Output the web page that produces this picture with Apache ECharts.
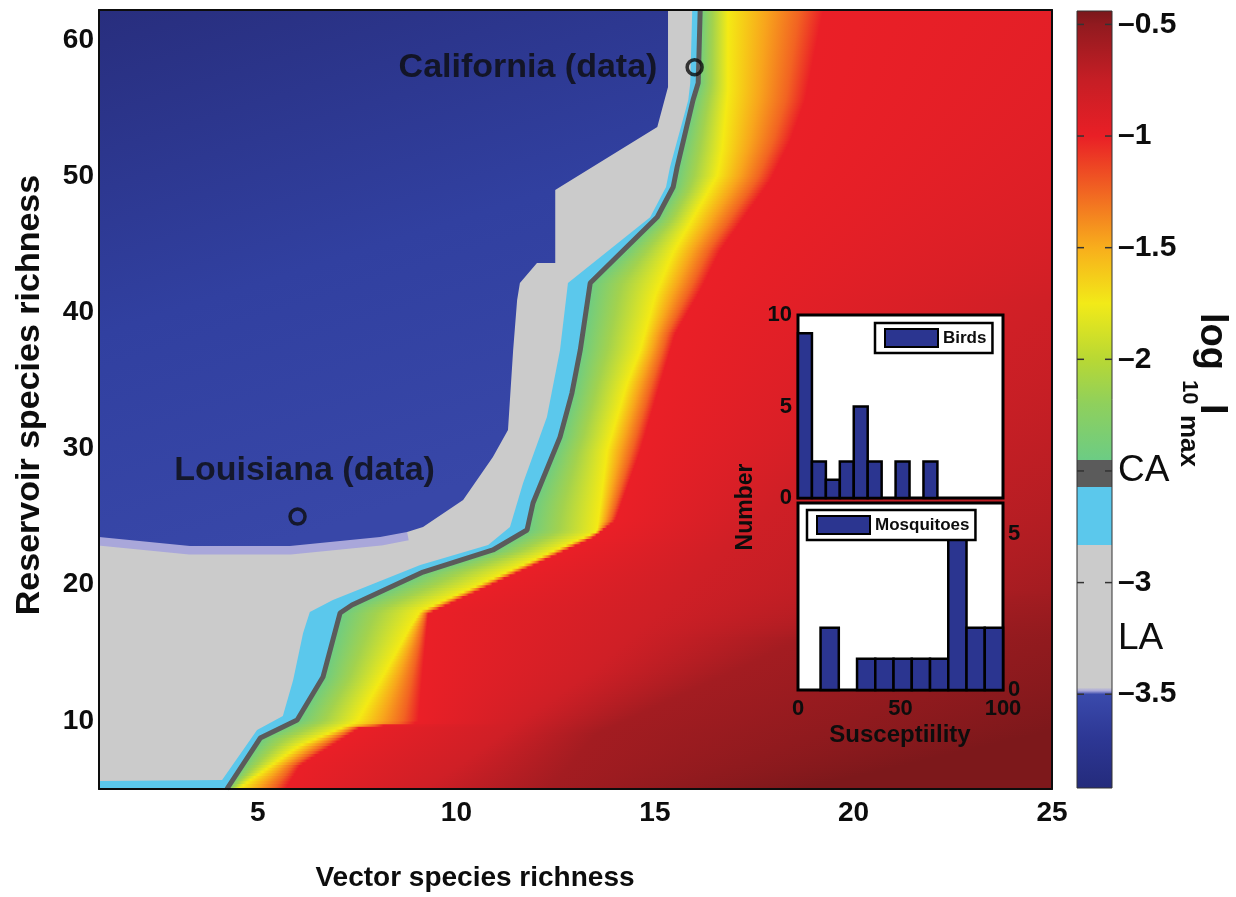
<!DOCTYPE html>
<html><head><meta charset="utf-8">
<script src="https://cdn.jsdelivr.net/npm/echarts@6/dist/echarts.min.js"></script>
<style>html,body{margin:0;padding:0;background:#fff}#chart{width:1236px;height:897px}</style>
</head><body><div id="chart"></div>
<script>
// ================= DATA =================
const xTicks = [5, 10, 15, 20, 25];
const yTicks = [10, 20, 30, 40, 50, 60];
const X_MIN = 1, X_MAX = 25, Y_MIN = 5, Y_MAX = 62.2;

// CA contour (dark grey line), points [vector richness, reservoir richness], bottom -> top
const caLine = [[4.22,5.0],[5.06,8.74],[5.99,10.07],[6.64,13.22],[7.07,17.92],[7.37,18.51],[9.16,20.93],[10.92,22.55],[11.78,24.02],[11.93,26.0],[12.61,30.84],[12.91,34.07],[13.12,37.23],[13.37,42.15],[15.06,47.0],[15.46,49.2],[15.56,50.67],[15.96,55.59],[16.09,56.84],[16.14,62.2]];
// grey (LA band) / cyan boundary
const cyanEdge = [[1.0,5.59],[4.10,5.66],[4.98,9.33],[5.63,10.36],[5.89,13.0],[6.14,16.45],[6.31,18.0],[6.89,18.88],[9.09,21.45],[10.80,22.91],[11.35,24.24],[11.68,27.47],[12.28,32.31],[12.61,37.23],[12.81,42.15],[14.88,46.99],[15.28,49.2],[15.38,50.67],[15.84,55.59],[15.89,56.84],[15.94,62.2]];
// blue (below LA level) region outline
const blueRegion = [[1.0,62.2],[15.33,62.2],[15.33,56.54],[15.06,53.6],[12.61,49.2],[12.49,48.98],[12.49,43.62],[12.03,43.62],[11.60,42.15],[11.53,40.9],[11.43,37.23],[11.30,31.36],[10.92,29.38],[10.17,26.22],[9.16,24.24],[8.76,23.87],[8.08,23.5],[5.81,22.84],[3.29,22.84],[1.0,23.5]];
const blueLowerEdge = [[1.0,23.5],[3.29,22.84],[5.81,22.84],[8.08,23.5],[8.76,23.87]];
// iso-lines of log10 Imax to the right of the CA contour
const yellowLine = [[4.50,5.0],[4.80,5.66],[6.06,8.23],[7.50,9.99],[8.33,14.25],[8.83,16.89],[9.09,18.07],[13.54,23.94],[13.80,29.89],[14.30,34.81],[14.63,37.23],[15.01,41.27],[15.46,44.43],[16.14,47.88],[16.57,50.08],[16.69,51.92],[16.84,56.32],[16.84,62.2]];   // ≈ -1.75
const redLine = [[5.69,5.0],[6.06,6.76],[7.57,9.55],[9.04,9.92],[9.16,13.96],[9.29,17.92],[13.44,23.5],[14.0,24.75],[14.63,29.89],[15.13,34.81],[15.51,38.48],[16.14,41.64],[16.64,44.57],[17.27,47.14],[17.90,49.71],[18.41,52.65],[18.78,55.59],[19.24,62.2]];   // ≈ -1.0
// darker reds (the last points lie beyond the right edge, where these levels leave the plot)
const darkRed1Line = [[9.2,5.0],[13.54,13.96],[18.66,27.69],[25.0,40.9],[45.0,62.2]];               // ≈ -0.8
const darkRed2Line = [[12.36,5.0],[13.54,9.11],[18.66,15.94],[25.0,19.61],[60.0,62.2]];             // ≈ -0.6
const darkRed3Line = [[18.66,5.0],[25.0,9.33],[80.0,62.2]];                                        // ≈ -0.47

const californiaPoint = [16, 58];
const louisianaPoint = [6, 25];

// colour bar (log10 Imax)
const CB_MIN = -3.92, CB_MAX = -0.44;
const cbValues = [-3.92,-3.70,-3.50,-3.485,-3.47,-2.83,-2.83,-2.57,-2.57,-2.45,-2.45,-2.2,-2.0,-1.75,-1.5,-1.25,-1.0,-0.75,-0.5,-0.44];
const cbColors = ['#242b7c','#2d3794','#3a4aac','#a8a6da','#cbcbcb','#cbcbcb','#5bc8ec','#5bc8ec','#5b5b5b','#5b5b5b','#6ccc84','#8fd05c','#b8d834','#f2ea18','#f8ae1c','#f16522','#e91f26','#c61e25','#911a1f','#7a171b'];
const cbTicks = [-3.5, -3, -2.5, -2, -1.5, -1, -0.5];
const cbLabelValues = [-3.5, -3.25, -3, -2.5, -2, -1.5, -1, -0.5];
const cbLabelTexts = ['\u20133.5', 'LA', '\u20133', 'CA', '\u20132', '\u20131.5', '\u20131', '\u20130.5'];

// inset histograms
const birdBinStart = [0, 6.8, 13.6, 20.4, 27.2, 34.0, 40.8, 47.6, 54.4, 61.2];
const birdCounts   = [9, 2, 1, 2, 5, 2, 0, 2, 0, 2];
const BIRD_BIN_WIDTH = 6.8;
const mosqBinStart = [2.1, 11.0, 19.9, 28.8, 37.7, 46.6, 55.5, 64.4, 73.3, 82.2, 91.1];
const mosqCounts   = [0, 2, 0, 1, 1, 1, 1, 1, 5, 2, 2];
const MOSQ_BIN_WIDTH = 8.9;

// ================= STYLE =================
const FONT = "'Liberation Sans', Arial, Helvetica, sans-serif";
const INK = '#0d0d0d';
const GRAY = '#cbcbcb';
const STRIP = 0.2;
const darkLines = [[darkRed1Line, '#cf1f26'], [darkRed2Line, '#a31c21'], [darkRed3Line, '#7d181b']];

function xOnLine(line, y) {
  const n = line.length;
  if (y < line[0][1] || y > line[n - 1][1]) return null;
  for (let i = 0; i < n - 1; i++) {
    const a = line[i], b = line[i + 1];
    if (y >= a[1] && y <= b[1]) {
      const t = b[1] === a[1] ? 0 : (y - a[1]) / (b[1] - a[1]);
      return a[0] + t * (b[0] - a[0]);
    }
  }
  return null;
}

function renderField(params, api) {
  const children = [];
  const xl = api.coord([X_MIN, Y_MIN])[0];
  const xr = api.coord([X_MAX, Y_MIN])[0];
  for (let y0 = Y_MIN; y0 < Y_MAX - 1e-9; y0 += STRIP) {
    const y1 = Math.min(y0 + STRIP, Y_MAX);
    const yc = (y0 + y1) / 2;
    const pyTop = api.coord([X_MIN, y1])[1];
    const pyBot = api.coord([X_MIN, y0])[1];
    const px = line => { const x = xOnLine(line, yc); return x === null ? null : api.coord([x, yc])[0]; };
    const pCA = px(caLine), pY = px(yellowLine), pR = px(redLine);
    const stops = [[pCA, GRAY], [pCA, '#6ccc84']];
    const g1 = pY - pCA;
    stops.push([pCA + 0.45 * g1, '#a2d24e'], [pCA + 0.8 * g1, '#d6e22a'], [pY, '#f4ea14']);
    const g2 = pR - pY;
    stops.push([pY + 0.4 * g2, '#f8a51c'], [pY + 0.75 * g2, '#f26322'], [pR, '#ea1f27']);
    darkLines.forEach(([line, color]) => { const p = px(line); if (p !== null) stops.push([p, color]); });
    const start = stops[0][0];
    const end = Math.max(stops[stops.length - 1][0], start + 1);
    let last = 0;
    const colorStops = stops.map(([p, c]) => {
      let o = (p - start) / (end - start);
      o = Math.min(1, Math.max(last, o)); last = o;
      return { offset: o, color: c };
    });
    children.push({
      type: 'rect',
      shape: { x: xl, y: pyTop - 0.5, width: xr - xl, height: pyBot - pyTop + 1 },
      style: { fill: new echarts.graphic.LinearGradient(start, 0, end, 0, colorStops, true) }
    });
  }
  return { type: 'group', children };
}

function polygonRenderer(points, style) {
  return function (params, api) {
    return { type: 'polygon', shape: { points: points.map(p => api.coord(p)) }, style };
  };
}

function renderColorbar(params, api) {
  const p0 = api.coord([0, CB_MIN]);
  const p1 = api.coord([1, CB_MAX]);
  const stops = cbValues.map((v, i) => ({ offset: (v - CB_MIN) / (CB_MAX - CB_MIN), color: cbColors[i] }));
  const children = [{
    type: 'rect',
    shape: { x: p0[0], y: p1[1], width: p1[0] - p0[0], height: p0[1] - p1[1] },
    style: { fill: new echarts.graphic.LinearGradient(0, p0[1], 0, p1[1], stops, true), stroke: '#333', lineWidth: 1 }
  }];
  cbTicks.forEach(v => {
    const y = api.coord([0, v])[1];
    children.push({ type: 'line', shape: { x1: p0[0], y1: y, x2: p0[0] + 7, y2: y }, style: { stroke: '#333', lineWidth: 1.5 } });
    children.push({ type: 'line', shape: { x1: p1[0] - 7, y1: y, x2: p1[0], y2: y }, style: { stroke: '#333', lineWidth: 1.5 } });
  });
  return { type: 'group', children };
}

function barRenderer(width) {
  return function (params, api) {
    const x0 = api.value(0), c = api.value(1);
    if (!c) return null;
    const p0 = api.coord([x0, c]);
    const p1 = api.coord([x0 + width, 0]);
    return {
      type: 'rect',
      shape: { x: p0[0], y: p0[1], width: p1[0] - p0[0], height: p1[1] - p0[1] },
      style: { fill: '#2b3590', stroke: '#000', lineWidth: 2.5 }
    };
  };
}

const cyanPolygon = [[X_MIN, Y_MIN]].concat(caLine, cyanEdge.slice().reverse());

const boxLine = { show: true, onZero: false, lineStyle: { color: INK, width: 2 } };
const off = { show: false };
const mainLabel = { fontSize: 28, fontWeight: 'bold', color: INK, fontFamily: FONT };
const insetLabel = { fontSize: 22, fontWeight: 'bold', color: INK, fontFamily: FONT };

const option = {
  animation: false,
  backgroundColor: '#fff',
  grid: [
    { left: 99, top: 10, width: 953, height: 779, outerBoundsMode: 'none' },
    { left: 1077, top: 11, width: 35, height: 777, outerBoundsMode: 'none' },
    { left: 798, top: 315, width: 205, height: 183, show: true, backgroundColor: '#fff', borderColor: '#000', borderWidth: 3, z: 5, outerBoundsMode: 'none' },
    { left: 798, top: 503, width: 205, height: 187, show: true, backgroundColor: '#fff', borderColor: '#000', borderWidth: 3, z: 5, outerBoundsMode: 'none' }
  ],
  xAxis: [
    { gridIndex: 0, type: 'value', min: X_MIN, max: X_MAX, position: 'bottom', axisLine: boxLine, axisTick: off, splitLine: off,
      axisLabel: Object.assign({ customValues: xTicks, margin: 10 }, mainLabel), z: 10 },
    { gridIndex: 0, type: 'value', min: X_MIN, max: X_MAX, position: 'top', axisLine: boxLine, axisTick: off, splitLine: off, axisLabel: off, z: 10 },
    { gridIndex: 1, type: 'value', min: 0, max: 1, show: false },
    { gridIndex: 2, type: 'value', min: 0, max: 100, axisLine: off, axisTick: off, splitLine: off, axisLabel: off },
    { gridIndex: 3, type: 'value', min: 0, max: 100, interval: 50, axisLine: off, axisTick: off, splitLine: off,
      axisLabel: Object.assign({ margin: 8 }, insetLabel), z: 10 }
  ],
  yAxis: [
    { gridIndex: 0, type: 'value', min: Y_MIN, max: Y_MAX, position: 'left', axisLine: boxLine, axisTick: off, splitLine: off,
      axisLabel: Object.assign({ customValues: yTicks, margin: 5 }, mainLabel), z: 10 },
    { gridIndex: 0, type: 'value', min: Y_MIN, max: Y_MAX, position: 'right', axisLine: boxLine, axisTick: off, splitLine: off, axisLabel: off, z: 10 },
    { gridIndex: 1, type: 'value', min: CB_MIN, max: CB_MAX, position: 'right', axisLine: off, splitLine: off, axisTick: off,
      axisLabel: {
        customValues: cbLabelValues, margin: 6, color: INK, fontFamily: FONT,
        formatter: v => {
          const i = cbLabelValues.findIndex(c => Math.abs(c - v) < 1e-6);
          const t = cbLabelTexts[i];
          return (t === 'LA' || t === 'CA') ? '{r|' + t + '}' : '{n|' + t + '}';
        },
        rich: {
          n: { fontSize: 30, fontWeight: 'bold', color: INK, fontFamily: FONT },
          r: { fontSize: 37, fontWeight: 'normal', color: INK, fontFamily: FONT }
        }
      }, z: 10 },
    { gridIndex: 2, type: 'value', min: 0, max: 10, interval: 5, position: 'left', axisLine: off, axisTick: off, splitLine: off,
      axisLabel: Object.assign({ margin: 6 }, insetLabel), z: 10 },
    { gridIndex: 3, type: 'value', min: 0, max: 6, position: 'right', axisLine: off, axisTick: off, splitLine: off,
      axisLabel: Object.assign({ customValues: [0, 5], margin: 5 }, insetLabel), z: 10 }
  ],
  legend: [
    { data: ['Birds'], left: 875, top: 323, backgroundColor: '#fff', borderColor: '#000', borderWidth: 2.5, borderRadius: 0,
      padding: [5, 6, 5, 9], itemWidth: 53, itemHeight: 18, itemGap: 5, icon: 'rect', selectedMode: false,
      itemStyle: { borderColor: '#000', borderWidth: 2 },
      textStyle: { fontSize: 17, fontWeight: 'bold', color: INK, fontFamily: FONT }, z: 10 },
    { data: ['Mosquitoes'], left: 807, top: 510, backgroundColor: '#fff', borderColor: '#000', borderWidth: 2.5, borderRadius: 0,
      padding: [5, 6, 5, 9], itemWidth: 53, itemHeight: 18, itemGap: 5, icon: 'rect', selectedMode: false,
      itemStyle: { borderColor: '#000', borderWidth: 2 },
      textStyle: { fontSize: 17, fontWeight: 'bold', color: INK, fontFamily: FONT }, z: 10 }
  ],
  series: [
    { type: 'custom', name: 'field', xAxisIndex: 0, yAxisIndex: 0, data: [[X_MIN, Y_MIN]], renderItem: renderField, z: 1, silent: true },
    { type: 'custom', name: 'cyan', xAxisIndex: 0, yAxisIndex: 0, data: [[X_MIN, Y_MIN]],
      renderItem: polygonRenderer(cyanPolygon, { fill: '#5bc8ec' }), z: 2, silent: true },
    { type: 'line', name: 'lavender', xAxisIndex: 0, yAxisIndex: 0, data: blueLowerEdge, symbol: 'none',
      lineStyle: { color: '#a9a7da', width: 17 }, z: 3, silent: true },
    { type: 'custom', name: 'blue', xAxisIndex: 0, yAxisIndex: 0, data: [[X_MIN, Y_MIN]],
      renderItem: polygonRenderer(blueRegion, { fill: new echarts.graphic.LinearGradient(0, 0, 0.3, 1, [
        { offset: 0, color: '#282e7e' }, { offset: 0.55, color: '#3140a0' }, { offset: 1, color: '#3847a8' }]) }),
      z: 4, silent: true },
    { type: 'line', name: 'CA', xAxisIndex: 0, yAxisIndex: 0, data: caLine, symbol: 'none',
      lineStyle: { color: '#5b5b5b', width: 5 }, z: 5, silent: true },
    { type: 'scatter', name: 'sites', xAxisIndex: 0, yAxisIndex: 0, z: 6, symbol: 'circle', symbolSize: 15,
      itemStyle: { color: 'rgba(0,0,0,0)', borderColor: INK, borderWidth: 3.5 },
      label: { show: true, formatter: '{b}', fontSize: 34, fontWeight: 'bold', color: INK, fontFamily: FONT },
      data: [
        { name: 'California (data)', value: californiaPoint, label: { position: 'left', distance: 28 } },
        { name: 'Louisiana (data)', value: louisianaPoint, label: { position: 'top', distance: 20, offset: [7, 0] } }
      ] },
    { type: 'custom', name: 'colorbar', xAxisIndex: 2, yAxisIndex: 2, data: [[0, CB_MIN]], renderItem: renderColorbar, z: 2, silent: true },
    { type: 'custom', name: 'Birds', xAxisIndex: 3, yAxisIndex: 3, z: 6,
      itemStyle: { color: '#2b3590', borderColor: '#000', borderWidth: 2 },
      data: birdBinStart.map((s, i) => [s, birdCounts[i]]), renderItem: barRenderer(BIRD_BIN_WIDTH) },
    { type: 'custom', name: 'Mosquitoes', xAxisIndex: 4, yAxisIndex: 4, z: 6,
      itemStyle: { color: '#2b3590', borderColor: '#000', borderWidth: 2 },
      data: mosqBinStart.map((s, i) => [s, mosqCounts[i]]), renderItem: barRenderer(MOSQ_BIN_WIDTH) }
  ],
  graphic: [
    { type: 'text', x: 475, y: 878, z: 20, style: { text: 'Vector species richness', fontSize: 28, fontWeight: 'bold', fontFamily: FONT, fill: INK, align: 'center', verticalAlign: 'middle' } },
    { type: 'text', x: 30, y: 395, rotation: Math.PI / 2, z: 20, style: { text: 'Reservoir species richness', fontSize: 34, fontWeight: 'bold', fontFamily: FONT, fill: INK, align: 'center', verticalAlign: 'middle' } },
    { type: 'text', x: 746, y: 507, rotation: Math.PI / 2, z: 20, style: { text: 'Number', fontSize: 23, fontWeight: 'bold', fontFamily: FONT, fill: INK, align: 'center', verticalAlign: 'middle' } },
    { type: 'text', x: 900, y: 735, z: 20, style: { text: 'Susceptiility', fontSize: 24, fontWeight: 'bold', fontFamily: FONT, fill: INK, align: 'center', verticalAlign: 'middle' } },
    { type: 'text', x: 1211, y: 313, rotation: -Math.PI / 2, z: 20, style: { text: 'log', fontSize: 38, fontWeight: 'bold', fontFamily: FONT, fill: INK, align: 'left', verticalAlign: 'middle' } },
    { type: 'text', x: 1189, y: 380, rotation: -Math.PI / 2, z: 20, style: { text: '10', fontSize: 22, fontWeight: 'bold', fontFamily: FONT, fill: INK, align: 'left', verticalAlign: 'middle' } },
    { type: 'text', x: 1211, y: 404, rotation: -Math.PI / 2, z: 20, style: { text: 'I', fontSize: 38, fontWeight: 'bold', fontFamily: FONT, fill: INK, align: 'left', verticalAlign: 'middle' } },
    { type: 'text', x: 1188, y: 415, rotation: -Math.PI / 2, z: 20, style: { text: 'max', fontSize: 26, fontWeight: 'bold', fontFamily: FONT, fill: INK, align: 'left', verticalAlign: 'middle' } }
  ]
};

const chart = echarts.init(document.getElementById('chart'), null, { renderer: 'canvas' });
chart.setOption(option);
</script>
</body></html>
